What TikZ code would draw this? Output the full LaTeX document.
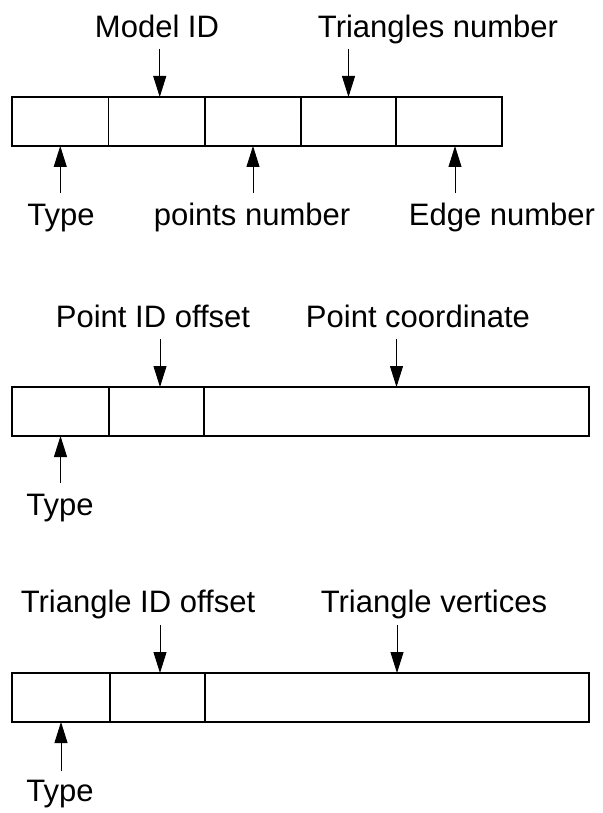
\documentclass[tikz,border=0pt]{standalone}
\usepackage{fontspec}
\setmainfont{Liberation Sans}
\usetikzlibrary{positioning,arrows.meta}

\begin{document}
\begin{tikzpicture}[
  x=1pt, y=-1pt,
  node distance=0pt,
  cell/.style={rectangle, draw, line width=1.2pt, minimum height=49pt, inner sep=0pt, outer sep=0pt},
  lbl/.style={font=\fontsize{31}{33}\selectfont, inner sep=0pt, anchor=base},
  arrow/.style={-{Triangle[length=21pt,width=13pt]}, line width=0.9pt},
]
\useasboundingbox (0,0) rectangle (602,813);

% Header record: five fields
\node[cell, minimum width=96.5pt, anchor=north west] (hd1) at (12,97) {};
\node[cell, minimum width=96.5pt, right=of hd1] (hd2) {};
\node[cell, minimum width=96pt, right=of hd2] (hd3) {};
\node[cell, minimum width=95pt, right=of hd3] (hd4) {};
\node[cell, minimum width=106pt, right=of hd4] (hd5) {};

\node[lbl] (lmodel) at (157,38) {Model ID};
\node[lbl] (ltri) at (438,38) {Triangles number};
\node[lbl] (ltype1) at (61,225) {Type};
\node[lbl] (lpts) at (252,225) {points number};
\node[lbl] (ledge) at (502,225) {Edge number};

\draw[arrow] ([xshift=3pt,yshift=48pt]hd2.north) -- ([xshift=3pt]hd2.north);
\draw[arrow] ([yshift=48pt]hd4.north) -- (hd4.north);
\draw[arrow] ([yshift=-47pt]hd1.south) -- (hd1.south);
\draw[arrow] ([yshift=-47pt]hd3.south) -- (hd3.south);
\draw[arrow] ([xshift=6pt,yshift=-47pt]hd5.south) -- ([xshift=6pt]hd5.south);

% Point record
\node[cell, minimum width=97pt, anchor=north west] (pt1) at (12,387) {};
\node[cell, minimum width=95pt, right=of pt1] (pt2) {};
\node[cell, minimum width=385pt, right=of pt2] (pt3) {};

\node[lbl] (lpid) at (153,327) {Point ID offset};
\node[lbl] (lpco) at (418,327) {Point coordinate};
\node[lbl] (ltype2) at (60,515) {Type};

\draw[arrow] ([xshift=3.5pt,yshift=48pt]pt2.north) -- ([xshift=3.5pt]pt2.north);
\draw[arrow] ([yshift=48pt]pt3.north) -- (pt3.north);
\draw[arrow] ([yshift=-47pt]pt1.south) -- (pt1.south);

% Triangle record
\node[cell, minimum width=98pt, anchor=north west] (tr1) at (12,673) {};
\node[cell, minimum width=95pt, right=of tr1] (tr2) {};
\node[cell, minimum width=384pt, right=of tr2] (tr3) {};

\node[lbl] (ltid) at (138,612) {Triangle ID offset};
\node[lbl] (ltve) at (434,612) {Triangle vertices};
\node[lbl] (ltype3) at (60,801) {Type};

\draw[arrow] ([xshift=2.5pt,yshift=48pt]tr2.north) -- ([xshift=2.5pt]tr2.north);
\draw[arrow] ([yshift=48pt]tr3.north) -- (tr3.north);
\draw[arrow] ([yshift=-49pt]tr1.south) -- (tr1.south);

\end{tikzpicture}
\end{document}
